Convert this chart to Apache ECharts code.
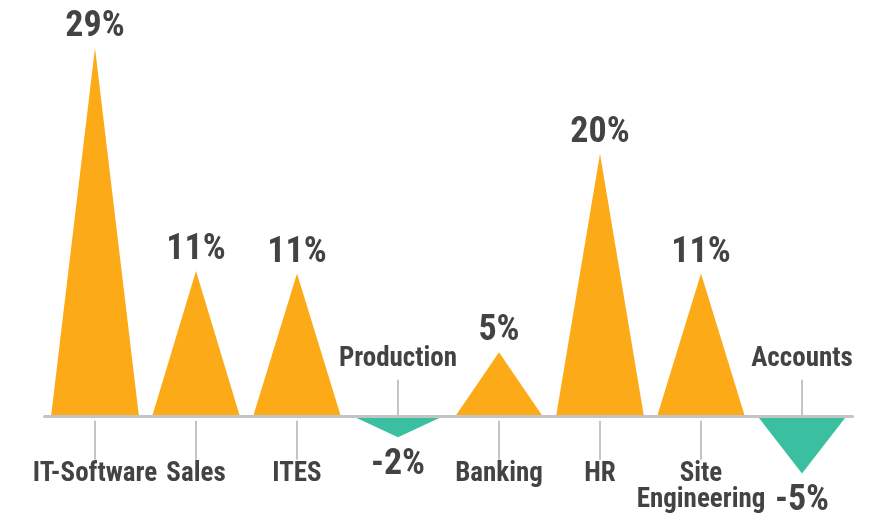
<!DOCTYPE html>
<html>
<head>
<meta charset="utf-8">
<script src="https://cdn.jsdelivr.net/npm/echarts@6/dist/echarts.min.js"></script>
<style>
html,body{margin:0;padding:0;background:#fff;}
#main{width:870px;height:516px;}
</style>
</head>
<body>
<div id="main"></div>
<script>
var categories = ['IT-Software', 'Sales', 'ITES', 'Production', 'Banking', 'HR', 'Site\nEngineering', 'Accounts'];
var values = [28.6, 11.3, 11.1, -1.6, 5.0, 20.4, 11.1, -4.4];
var labels = ['29%', '11%', '11%', '-2%', '5%', '20%', '11%', '-5%'];

var posColor = '#FCAA17';
var negColor = '#3AC0A0';
var textColor = '#434345';
var fontName = '"Liberation Sans Narrow","Roboto Condensed","Arial Narrow",Roboto,sans-serif';

var myChart = echarts.init(document.getElementById('main'));

var barData = values.map(function(v, i){
	return {
		value: v,
		itemStyle: {color: v < 0 ? negColor : posColor},
		label: {
			position: v < 0 ? 'bottom' : 'top',
			distance: v < 0 ? 10 : 3,
			formatter: labels[i]
		}
	};
});

function renderTick(params, api){
	var idx = api.value(0);
	var v = values[idx];
	var p = api.coord([idx, 0]);
	var x = p[0], y0 = p[1];
	var up = v < 0;
	return {
		type: 'group',
		children: [{
			type: 'line',
			shape: up ? {x1: x, y1: y0 - 37, x2: x, y2: y0} : {x1: x, y1: y0 + 4, x2: x, y2: y0 + 43},
			style: {stroke: '#c4c4c4', lineWidth: 2}
		}, {
			type: 'text',
			x: x,
			y: up ? y0 - 44 : y0 + 45,
			style: {
				text: categories[idx],
				fill: textColor,
				font: 'bold 27px ' + fontName,
				lineHeight: 26,
				align: 'center',
				verticalAlign: up ? 'bottom' : 'top'
			}
		}]
	};
}

var option = {
	animation: false,
	grid: {
		left: 44.5,
		right: 17.5,
		top: 30,
		height: 464
	},
	xAxis: {
		type: 'category',
		data: categories,
		z: 5,
		axisLine: {lineStyle: {color: '#c4c4c4', width: 3}},
		axisTick: {show: false},
		axisLabel: {show: false}
	},
	yAxis: {
		type: 'value',
		min: -6,
		max: 30,
		show: false,
		splitLine: {show: false}
	},
	series: [{
		type: 'pictorialBar',
		symbol: 'triangle',
		symbolSize: [88, '100%'],
		barCategoryGap: '0%',
		label: {
			show: true,
			color: textColor,
			fontFamily: fontName,
			fontWeight: 'bold',
			fontSize: 36
		},
		data: barData
	}, {
		type: 'custom',
		renderItem: renderTick,
		data: categories.map(function(c, i){ return [i]; }),
		z: 6
	}]
};

myChart.setOption(option, true);
</script>
</body>
</html>
